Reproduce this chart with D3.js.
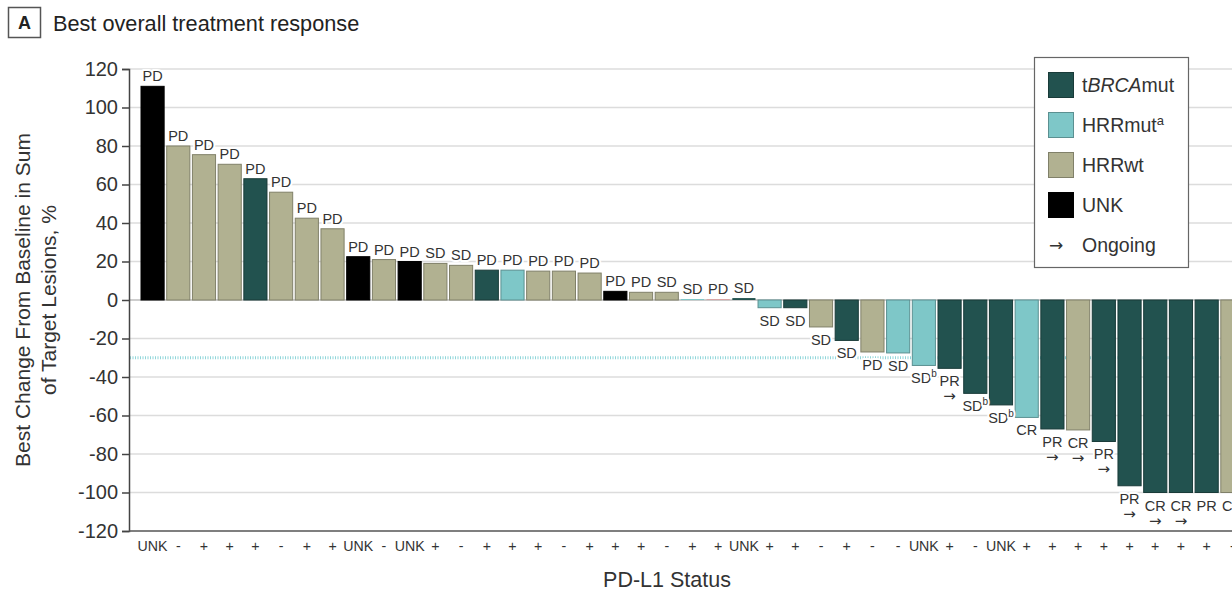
<!DOCTYPE html>
<html>
<head>
<meta charset="utf-8">
<script src="https://cdn.jsdelivr.net/npm/d3@7"></script>
<style>
  html, body { margin: 0; padding: 0; background: #fff; }
  svg { display: block; font-family: "Liberation Sans", Arial, sans-serif; }
</style>
</head>
<body>
<svg id="chart" width="1232" height="593"></svg>
<script>
// Best % change from baseline in sum of target lesions, one bar per patient
const changes = [111, 80, 75.5, 70.5, 63, 56, 42.5, 37, 22.5, 21, 20, 19, 18, 15.5, 15.5, 15, 15, 14,
  4.5, 4, 4, 0.5, 0.5, 1, -4, -4, -14, -21, -27, -27.5, -34, -35.5, -48.5, -54.5, -61, -67, -67.5,
  -73.5, -96.5, -100, -100, -100, -100];
// Mutation group of each patient
const groups = ["UNK", "HRRwt", "HRRwt", "HRRwt", "tBRCA", "HRRwt", "HRRwt", "HRRwt", "UNK", "HRRwt",
  "UNK", "HRRwt", "HRRwt", "tBRCA", "HRRmut", "HRRwt", "HRRwt", "HRRwt", "UNK", "HRRwt", "HRRwt",
  "HRRmut", "other", "tBRCA", "HRRmut", "tBRCA", "HRRwt", "tBRCA", "HRRwt", "HRRmut", "HRRmut", "tBRCA",
  "tBRCA", "tBRCA", "HRRmut", "tBRCA", "HRRwt", "tBRCA", "tBRCA", "tBRCA", "tBRCA", "tBRCA", "HRRwt"];
// Best overall response
const responses = ["PD", "PD", "PD", "PD", "PD", "PD", "PD", "PD", "PD", "PD", "PD", "SD", "SD", "PD",
  "PD", "PD", "PD", "PD", "PD", "PD", "SD", "SD", "PD", "SD", "SD", "SD", "SD", "SD", "PD", "SD", "SD",
  "PR", "SD", "SD", "CR", "PR", "CR", "PR", "PR", "CR", "CR", "PR", "CR"];
// Footnote marks on response labels
const footnotes = ["", "", "", "", "", "", "", "", "", "", "", "", "", "", "", "", "", "", "", "", "", "",
  "", "", "", "", "", "", "", "", "b", "", "b", "b", "", "", "", "", "", "", "", "", ""];
// Response still ongoing
const ongoing = [0, 0, 0, 0, 0, 0, 0, 0, 0, 0, 0, 0, 0, 0, 0, 0, 0, 0, 0, 0, 0, 0, 0, 0, 0, 0, 0, 0, 0, 0,
  0, 1, 0, 0, 0, 1, 1, 1, 1, 1, 1, 0, 0];
// PD-L1 status labels
const pdl1 = ["UNK", "-", "+", "+", "+", "-", "+", "+", "UNK", "-", "UNK", "+", "-", "+", "+", "+", "-",
  "+", "+", "+", "-", "+", "+", "UNK", "+", "+", "-", "+", "-", "-", "UNK", "+", "-", "UNK", "+", "+",
  "+", "+", "+", "+", "+", "+", "-"];
const yTicks = [120, 100, 80, 60, 40, 20, 0, -20, -40, -60, -80, -100, -120];
const legendGroups = ["tBRCA", "HRRmut", "HRRwt", "UNK"];

const colors = {
  tBRCA: "#22524f",
  HRRmut: "#7ec7c8",
  HRRwt: "#b1b191",
  UNK: "#000000",
  other: "#d9a3a3"
};
const arrowFont = "'DejaVu Sans', sans-serif";

const svg = d3.select("#chart");
const axisX = 129;
const x = d3.scaleBand().domain(d3.range(changes.length)).range([141, 141 + changes.length * 25.65])
  .paddingInner(0.1).paddingOuter(0);
const y = d3.scaleLinear().domain([-120, 120]).range([531, 69]);

// Panel tag and title
svg.append("rect").attr("x", 8.5).attr("y", 7.5).attr("width", 32).attr("height", 30)
  .attr("fill", "none").attr("stroke", "#555").attr("stroke-width", 1.5);
svg.append("text").attr("x", 24.5).attr("y", 29).attr("text-anchor", "middle")
  .attr("font-size", 18).attr("font-weight", "bold").attr("fill", "#222").text("A");
svg.append("text").attr("x", 53).attr("y", 31).attr("font-size", 21.7).attr("fill", "#222")
  .text("Best overall treatment response");

// Horizontal gridlines
svg.append("g").selectAll("line").data(yTicks.filter(d => d > -120)).join("line")
  .attr("x1", axisX).attr("x2", 1232)
  .attr("y1", d => y(d)).attr("y2", d => y(d))
  .attr("stroke", d => d === 0 ? "#bdbdbd" : "#dcdcdc").attr("stroke-width", 1.5);

// -30% threshold
svg.append("line").attr("x1", axisX + 1).attr("x2", 1232).attr("y1", y(-30)).attr("y2", y(-30))
  .attr("stroke", "#8fd6da").attr("stroke-width", 3).attr("stroke-dasharray", "1,1.5");

// Bars
svg.append("g").selectAll("rect").data(changes).join("rect")
  .attr("x", (d, i) => x(i))
  .attr("width", x.bandwidth())
  .attr("y", d => y(Math.max(0, d)))
  .attr("height", d => Math.max(1, Math.abs(y(d) - y(0))))
  .attr("fill", (d, i) => colors[groups[i]])
  .attr("stroke", (d, i) => groups[i] === "UNK" ? "#000" : d3.color(colors[groups[i]]).darker(0.9))
  .attr("stroke-width", (d, i) => Math.abs(d) < 2 ? 0 : 1);

// Response labels
const labels = svg.append("g").attr("font-size", 14.5).attr("fill", "#333").attr("text-anchor", "middle");
changes.forEach((d, i) => {
  const cx = x(i) + x.bandwidth() / 2;
  const base = d >= 0 ? y(d) - 5 : y(d) + 18;
  const t = labels.append("text").attr("x", cx).attr("y", base)
    .attr("stroke", "#fff").attr("stroke-width", 4).attr("paint-order", "stroke")
    .attr("stroke-linejoin", "round");
  t.append("tspan").text(responses[i]);
  if (footnotes[i]) {
    t.append("tspan").attr("font-size", 10).attr("dy", -6).text(footnotes[i]);
  }
  if (ongoing[i]) {
    labels.append("text").attr("x", cx).attr("y", base + 15).attr("font-size", 15)
      .attr("font-family", arrowFont)
      .attr("stroke", "#fff").attr("stroke-width", 2).attr("paint-order", "stroke")
      .text("\u2192");
  }
});

// Left axis
const yAxis = d3.axisLeft(y).tickValues(yTicks).tickSize(7).tickPadding(4)
  .tickFormat(d => d3.format("d")(d).replace("\u2212", "-"));
const ya = svg.append("g").attr("transform", `translate(${axisX},0)`).call(yAxis);
ya.select(".domain").attr("stroke", "#444").attr("stroke-width", 1.5);
ya.selectAll(".tick line").attr("stroke", "#444").attr("stroke-width", 1.5);
ya.selectAll(".tick text").attr("font-size", 20).attr("fill", "#333")
  .attr("font-family", "'Liberation Sans', Arial, sans-serif");

// Bottom baseline and PD-L1 status labels
svg.append("line").attr("x1", axisX).attr("x2", 1232).attr("y1", y(-120)).attr("y2", y(-120))
  .attr("stroke", "#555").attr("stroke-width", 1.5);
const xAxis = d3.axisBottom(x).tickSize(0).tickPadding(10).tickFormat(i => pdl1[i]);
const xa = svg.append("g").attr("transform", `translate(0,${y(-120)})`).call(xAxis);
xa.select(".domain").remove();
xa.selectAll(".tick text").attr("font-size", 14.2).attr("fill", "#333")
  .attr("font-family", "'Liberation Sans', Arial, sans-serif");

// Axis titles
svg.append("text").attr("x", 667).attr("y", 587).attr("text-anchor", "middle")
  .attr("font-size", 21.5).attr("fill", "#333").text("PD-L1 Status");
svg.append("text").attr("transform", "translate(30,300) rotate(-90)").attr("text-anchor", "middle")
  .attr("font-size", 21).attr("fill", "#333").text("Best Change From Baseline in Sum");
svg.append("text").attr("transform", "translate(56,300) rotate(-90)").attr("text-anchor", "middle")
  .attr("font-size", 21).attr("fill", "#333").text("of Target Lesions, %");

// Legend
const lg = svg.append("g");
lg.append("rect").attr("x", 1034.5).attr("y", 57.5).attr("width", 154).attr("height", 210)
  .attr("fill", "#fff").attr("stroke", "#666").attr("stroke-width", 1.2);
legendGroups.forEach((g, k) => {
  const yy = 72 + k * 40;
  lg.append("rect").attr("x", 1048.5).attr("y", yy + 0.5).attr("width", 25).attr("height", 25)
    .attr("fill", colors[g]).attr("stroke", g === "UNK" ? "#000" : d3.color(colors[g]).darker(0.9));
  const t = lg.append("text").attr("x", 1082).attr("y", yy + 20).attr("font-size", 19.5).attr("fill", "#333");
  if (g === "tBRCA") {
    t.append("tspan").text("t");
    t.append("tspan").attr("font-style", "italic").text("BRCA");
    t.append("tspan").text("mut");
  } else if (g === "HRRmut") {
    t.append("tspan").text("HRRmut");
    t.append("tspan").attr("font-size", 13).attr("dy", -7).text("a");
  } else {
    t.text(g);
  }
});
lg.append("text").attr("x", 1049).attr("y", 251).attr("font-size", 17).attr("font-family", arrowFont)
  .attr("fill", "#333").text("\u2192");
lg.append("text").attr("x", 1082).attr("y", 252).attr("font-size", 19.5).attr("fill", "#333").text("Ongoing");
</script>
</body>
</html>
